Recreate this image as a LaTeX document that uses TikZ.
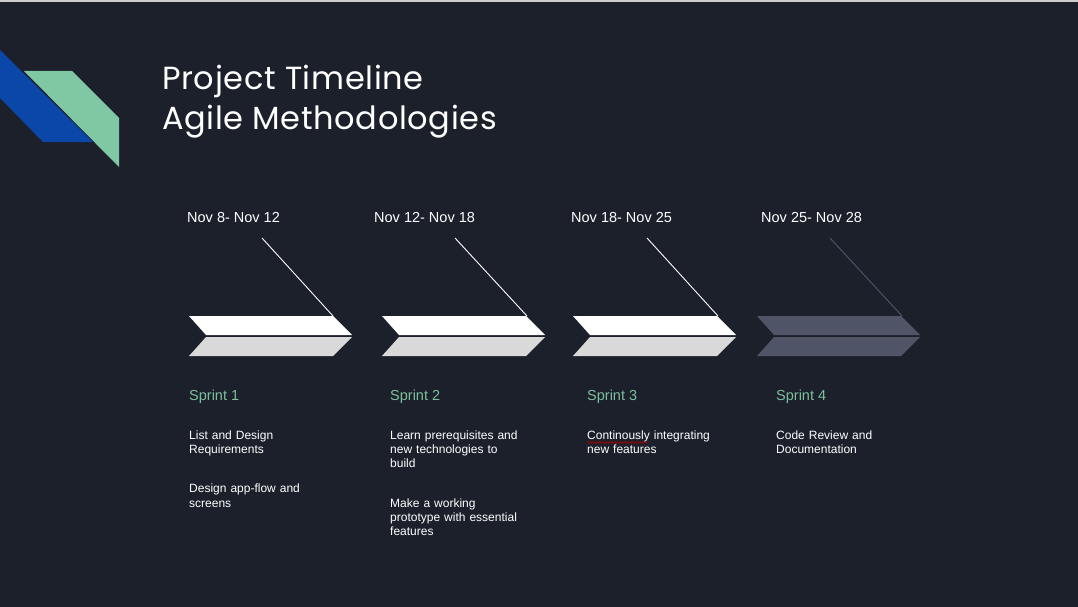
\documentclass[tikz,border=0pt]{standalone}
\usepackage{fontspec}
\setmainfont{Liberation Sans}
\newfontfamily\titlefont[LetterSpace=2]{Poppins}
\usepackage{tikz}
\usetikzlibrary{positioning, calc}
\usetikzlibrary{decorations.pathmorphing}
\definecolor{bg}{HTML}{1C202B}
\definecolor{deckblue}{HTML}{0A47A8}
\definecolor{deckgreen}{HTML}{80C7A4}
\definecolor{sprintgreen}{HTML}{7DBF9C}
\definecolor{barlight}{HTML}{D9D9D9}
\definecolor{bargray}{HTML}{4F5567}
\tikzstyle{title} = [anchor=base west, inner sep=0pt, text=white, align=left, font=\titlefont\fontsize{32}{39}\selectfont]
\tikzstyle{date} = [anchor=base west, inner sep=0pt, text=white, font=\fontsize{14.5}{17}\selectfont]
\tikzstyle{sprint} = [anchor=base west, inner sep=0pt, text=sprintgreen, font=\fontsize{14.5}{17}\selectfont]
\tikzstyle{task} = [anchor=base west, inner sep=0pt, text=white, text width=150pt, align=left, font=\fontsize{12}{14.3}\selectfont]
\tikzstyle{leader} = [white, line width=0.9pt]

\begin{document}
\begin{tikzpicture}[x=1pt, y=-1pt]
            \useasboundingbox (0,0) rectangle (1078,607);
            \fill[bg] (0,0) rectangle (1078,607);
            \fill[black!20] (0,0) rectangle (1078,2.5);

            % corner decoration
            \fill[deckblue] (0,50) -- (93,142) -- (43,142) -- (0,98) -- cycle;
            \fill[deckgreen] (24,71) -- (72,71) -- (119,118) -- (119,167) -- cycle;

            \node (title1) [title] at (162,90) {Project Timeline};
            \node (title2) [title] at (162,129) {Agile Methodologies};

            % dates
            \node (date1) [date] at (187,222.7) {Nov 8- Nov 12};
            \node (date2) [date] at (374,222.7) {Nov 12- Nov 18};
            \node (date3) [date] at (571,222.7) {Nov 18- Nov 25};
            \node (date4) [date] at (761,222.7) {Nov 25- Nov 28};

            % chevrons
            \coordinate (bar1) at (189,316);
            \coordinate (bar2) at (382,316);
            \coordinate (bar3) at (573,316);
            \coordinate (bar4) at (757,316);
            \fill[white] (bar1) -- ++(144,0) -- ++(19,19) -- ++(-146,0) -- cycle;
            \fill[barlight] ($(bar1)+(17,21)$) -- ++(146,0) -- ++(-19,19) -- ++(-144,0) -- cycle;
            \fill[white] (bar2) -- ++(144,0) -- ++(19,19) -- ++(-146,0) -- cycle;
            \fill[barlight] ($(bar2)+(17,21)$) -- ++(146,0) -- ++(-19,19) -- ++(-144,0) -- cycle;
            \fill[white] (bar3) -- ++(144,0) -- ++(19,19) -- ++(-146,0) -- cycle;
            \fill[barlight] ($(bar3)+(17,21)$) -- ++(146,0) -- ++(-19,19) -- ++(-144,0) -- cycle;
            \fill[bargray] (bar4) -- ++(144,0) -- ++(19,19) -- ++(-146,0) -- cycle;
            \fill[bargray] ($(bar4)+(17,21)$) -- ++(146,0) -- ++(-19,19) -- ++(-144,0) -- cycle;

            % leader lines
            \coordinate (lead1) at (262,238);
            \coordinate (lead2) at (455,238);
            \coordinate (lead3) at (647,238);
            \coordinate (lead4) at (830,238);
            \coordinate (tip1) at ($(bar1)+(144,0)$);
            \coordinate (tip2) at ($(bar2)+(145,0)$);
            \coordinate (tip3) at ($(bar3)+(145,0)$);
            \coordinate (tip4) at ($(bar4)+(145,0)$);
            \draw [leader] (lead1) -- (tip1);
            \draw [leader] (lead2) -- (tip2);
            \draw [leader] (lead3) -- (tip3);
            \draw [leader, bargray] (lead4) -- (tip4);

            % sprints
            \node (sprint1) [sprint] at (189,400.3) {Sprint 1};
            \node (sprint2) [sprint] at (390,400.3) {Sprint 2};
            \node (sprint3) [sprint] at (587,400.3) {Sprint 3};
            \node (sprint4) [sprint] at (776,400.3) {Sprint 4};

            \node (task11) [task] at (189,439.3) {List and Design\\Requirements};
            \node (task12) [task] at (189,492.7) {Design app-flow and\\screens};
            \node (task21) [task] at (390,439.3) {Learn prerequisites and\\new technologies to\\build};
            \node (task22) [task] at (390,507) {Make a working\\prototype with essential\\features};
            \node (task31) [task] at (587,439.3) {Continously integrating\\new features};
            \node (task41) [task] at (776,439.3) {Code Review and\\Documentation};

            \draw[red!70!black, line width=0.5pt, decorate, decoration={zigzag, amplitude=0.9pt, segment length=2.5pt}] (587,442.5) -- (648,442.5);
        \end{tikzpicture}
\end{document}
